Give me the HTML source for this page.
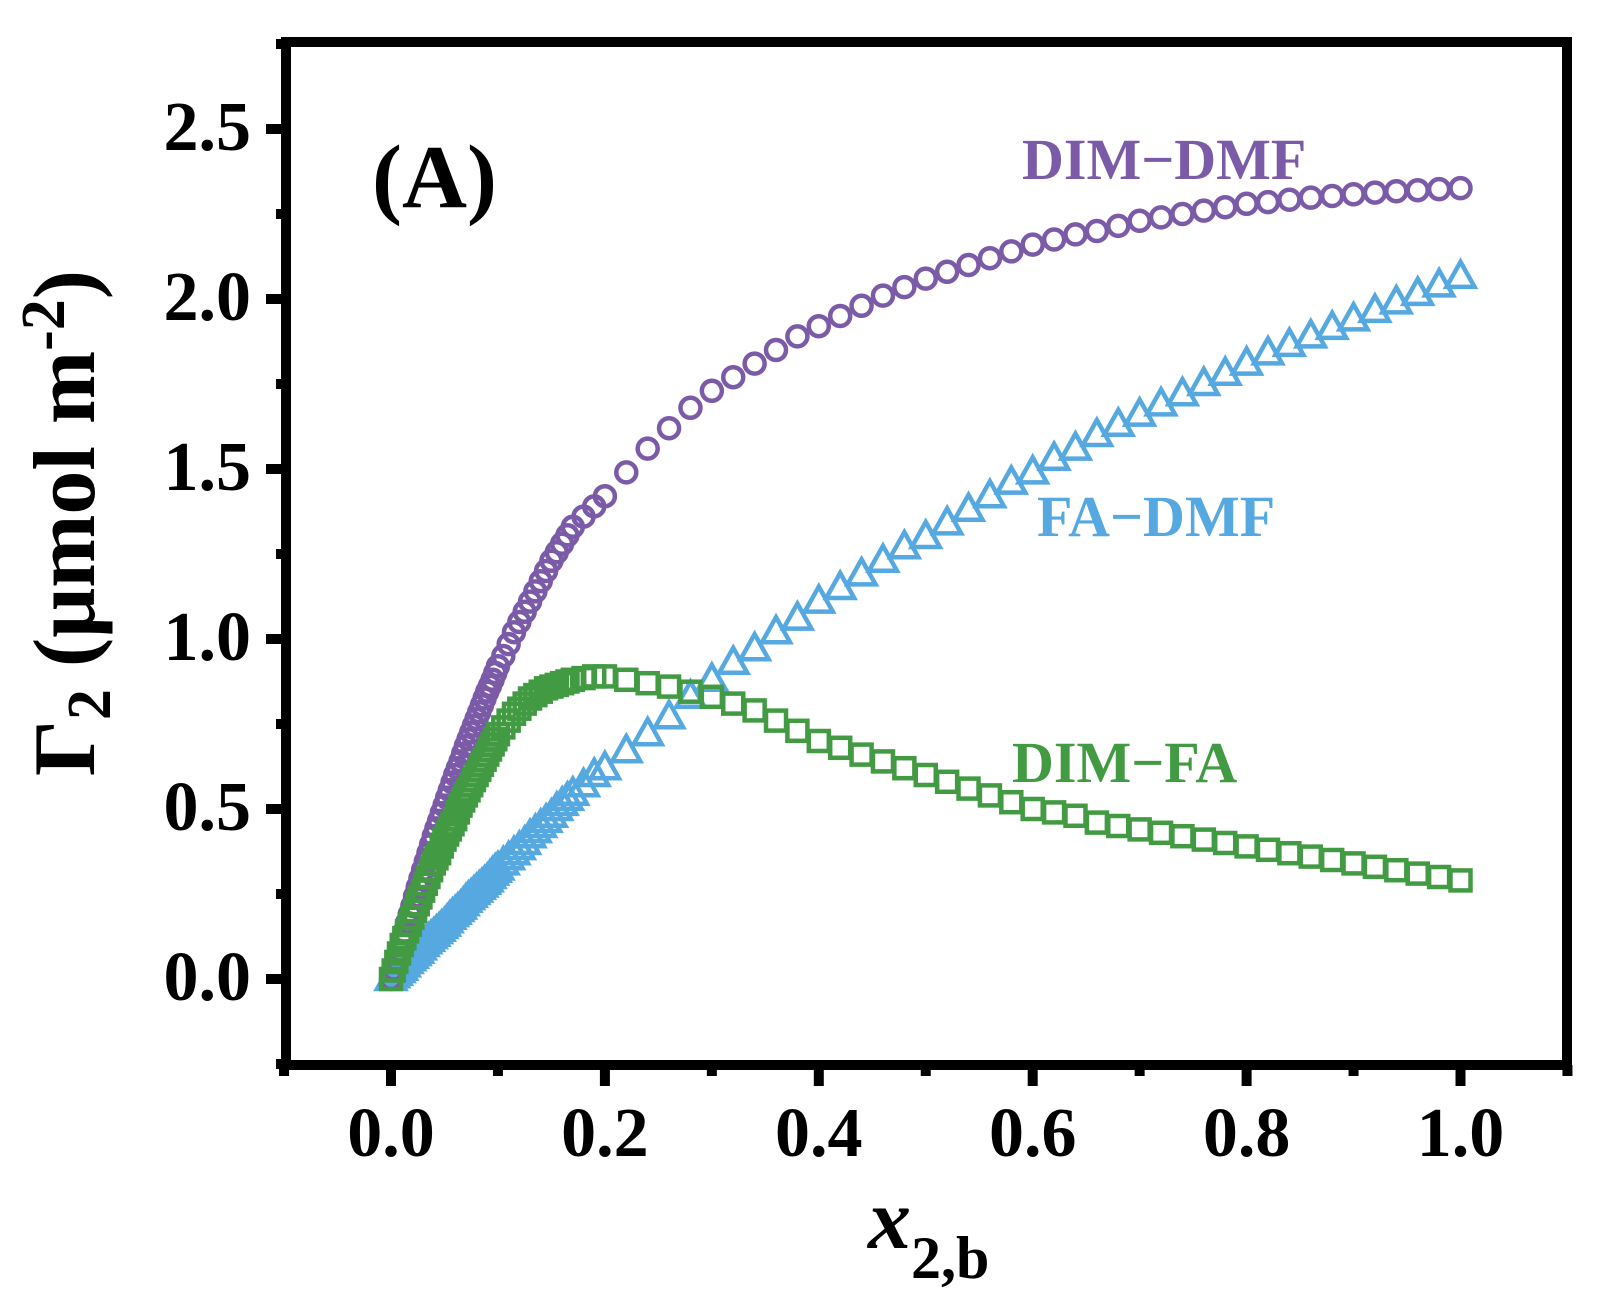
<!DOCTYPE html>
<html><head><meta charset="utf-8"><style>
html,body{margin:0;padding:0;background:#fff;}
svg{display:block;}
text{font-family:"Liberation Serif","DejaVu Serif",serif;font-weight:bold;}
</style></head><body>
<svg id="chart" width="1598" height="1308" viewBox="0 0 1598 1308" xmlns="http://www.w3.org/2000/svg">
<g id="series"></g>
<g id="axes"></g>
<text x="372" y="207" font-size="90" fill="#000">(A)</text>
<text x="1022" y="179" font-size="58" fill="#7B5BA8">DIM−DMF</text>
<text x="1037" y="536" font-size="58" fill="#55A8E0">FA−DMF</text>
<text x="1012" y="782" font-size="58" fill="#429B42">DIM−FA</text>
<text transform="translate(94,523) rotate(-90)" text-anchor="middle" font-size="88" fill="#000">Γ<tspan font-size="62" dy="16">2</tspan><tspan dy="-16"> (μmol m</tspan><tspan font-size="62" dy="-30">-2</tspan><tspan dy="30">)</tspan></text>
<text x="868" y="1248" font-size="86" fill="#000"><tspan font-style="italic">x</tspan><tspan font-size="60" dy="30">2,b</tspan></text>
</svg>
<script>
const xVals=[0,0.0025,0.005,0.0075,0.01,0.0125,0.015,0.0175,0.02,0.0225,0.025,0.0275,0.03,0.0325,0.035,0.0375,0.04,0.0425,0.045,0.0475,0.05,0.0525,0.055,0.0575,0.06,0.0625,0.065,0.0675,0.07,0.0725,0.075,0.0775,0.08,0.0825,0.085,0.0875,0.09,0.0925,0.095,0.0975,0.10,0.105,0.11,0.115,0.12,0.125,0.13,0.135,0.14,0.145,0.15,0.155,0.16,0.165,0.17,0.18,0.19,0.20,0.22,0.24,0.26,0.28,0.30,0.32,0.34,0.36,0.38,0.40,0.42,0.44,0.46,0.48,0.50,0.52,0.54,0.56,0.58,0.60,0.62,0.64,0.66,0.68,0.70,0.72,0.74,0.76,0.78,0.80,0.82,0.84,0.86,0.88,0.90,0.92,0.94,0.96,0.98,1.00];
const dimDmf=[0,0.028,0.055,0.083,0.11,0.138,0.165,0.19,0.215,0.243,0.27,0.295,0.32,0.345,0.37,0.395,0.42,0.443,0.465,0.488,0.51,0.533,0.555,0.578,0.60,0.62,0.64,0.663,0.685,0.705,0.725,0.745,0.765,0.785,0.805,0.825,0.845,0.862,0.88,0.90,0.92,0.95,0.985,1.02,1.05,1.08,1.11,1.14,1.17,1.20,1.23,1.255,1.28,1.305,1.33,1.36,1.39,1.42,1.49,1.56,1.62,1.68,1.73,1.77,1.81,1.85,1.89,1.92,1.95,1.98,2.01,2.035,2.06,2.08,2.10,2.12,2.14,2.16,2.175,2.19,2.20,2.215,2.23,2.24,2.25,2.26,2.27,2.28,2.285,2.292,2.298,2.303,2.308,2.313,2.317,2.32,2.323,2.326];
const faDmf=[0,0.008,0.015,0.023,0.03,0.04,0.05,0.058,0.065,0.073,0.08,0.09,0.10,0.108,0.115,0.123,0.13,0.138,0.145,0.153,0.16,0.17,0.18,0.188,0.195,0.203,0.21,0.22,0.23,0.238,0.245,0.253,0.26,0.268,0.275,0.283,0.29,0.30,0.31,0.318,0.325,0.34,0.355,0.37,0.385,0.40,0.42,0.435,0.45,0.465,0.48,0.50,0.515,0.53,0.545,0.57,0.60,0.62,0.67,0.72,0.77,0.83,0.88,0.93,0.97,1.02,1.06,1.11,1.15,1.19,1.23,1.27,1.30,1.34,1.38,1.42,1.46,1.49,1.53,1.56,1.60,1.63,1.66,1.69,1.72,1.75,1.78,1.81,1.84,1.865,1.89,1.915,1.94,1.965,1.99,2.015,2.04,2.065,2.09];
const dimFa=[0,0.025,0.05,0.075,0.10,0.12,0.14,0.16,0.18,0.20,0.22,0.24,0.26,0.28,0.30,0.32,0.34,0.355,0.37,0.39,0.41,0.425,0.44,0.455,0.47,0.49,0.51,0.525,0.54,0.555,0.57,0.585,0.60,0.615,0.63,0.645,0.66,0.675,0.69,0.705,0.72,0.74,0.76,0.78,0.795,0.81,0.825,0.835,0.845,0.855,0.86,0.865,0.87,0.875,0.88,0.885,0.89,0.89,0.88,0.87,0.86,0.845,0.83,0.81,0.79,0.76,0.73,0.70,0.68,0.66,0.64,0.62,0.60,0.58,0.56,0.54,0.52,0.50,0.49,0.48,0.46,0.45,0.44,0.43,0.42,0.41,0.40,0.39,0.38,0.37,0.36,0.35,0.34,0.33,0.32,0.31,0.30,0.29];
const xTickLabels=["0.0","0.2","0.4","0.6","0.8","1.0"];
const yTickLabels=["0.0","0.5","1.0","1.5","2.0","2.5"];

const NS="http://www.w3.org/2000/svg";
const X=v=>391+v*1069.5;
const Y=v=>979-v*340;
function mk(tag,attrs,parent){const e=document.createElementNS(NS,tag);for(const k in attrs)e.setAttribute(k,attrs[k]);parent.appendChild(e);return e;}
const S=document.getElementById('series');
const A=document.getElementById('axes');

const gB=mk('g',{fill:'none',stroke:'#55A8E0','stroke-width':4.5,'stroke-linejoin':'miter'},S);


faDmf.forEach((v,i)=>{const cx=X(xVals[i]),cy=Y(v);
 const p=mk('polygon',{points:`${cx},${cy-15} ${cx+14},${cy+10} ${cx-14},${cy+10}`},gB);
 
 });
const gP=mk('g',{fill:'none',stroke:'#7B5BA8','stroke-width':4.5},S);


dimDmf.forEach((v,i)=>{
 const c=mk('circle',{cx:X(xVals[i]),cy:Y(v),r:10},gP);
 
 });
const gG=mk('g',{fill:'none',stroke:'#429B42','stroke-width':4.5},S);


dimFa.forEach((v,i)=>{
 const r=mk('rect',{x:X(xVals[i])-10,y:Y(v)-10,width:20,height:20},gG);
 
 });

const fr=mk('rect',{x:286,y:42,width:1281,height:1023,fill:'none',stroke:'#000','stroke-width':10},A);


for(let k=-1;k<=11;k++){const v=k/10,xx=X(v),major=(k%2===0&&k>=0&&k<=10);
 const t=mk('line',{x1:xx,x2:xx,y1:1065,y2:major?1086:1076,stroke:'#000','stroke-width':10},A);
 
 }
xTickLabels.forEach((s,i)=>{const t=mk('text',{x:X(i*0.2),y:1156,'font-size':70,'text-anchor':'middle'},A);t.textContent=s;
 
 });
for(let k=-1;k<=11;k++){const v=k/4,yy=Y(v),major=(k%2===0&&k>=0&&k<=10);
 if(yy<42||yy>1065)continue;
 const t=mk('line',{x1:major?266:276,x2:286,y1:yy,y2:yy,stroke:'#000','stroke-width':10},A);
 
 }
yTickLabels.forEach((s,i)=>{const t=mk('text',{x:251,y:Y(i*0.5)+21,'font-size':70,'text-anchor':'end'},A);t.textContent=s;
 
 });
</script>
</body></html>
